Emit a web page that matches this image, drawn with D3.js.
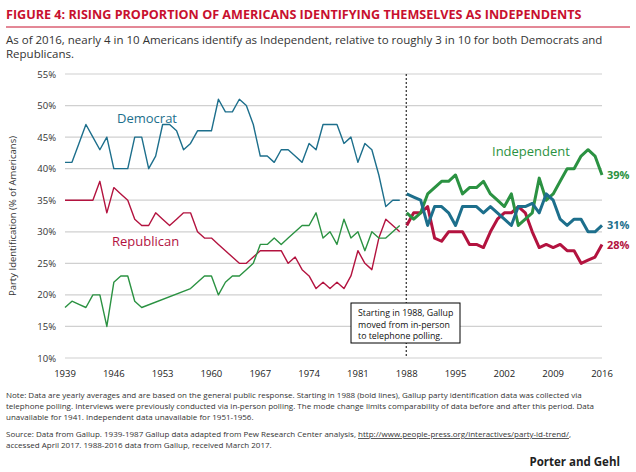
<!DOCTYPE html>
<html><head><meta charset="utf-8">
<script src="https://cdn.jsdelivr.net/npm/d3@7"></script>
<style>
body{margin:0;background:#fff;font-family:"Open Sans",Arial,sans-serif;}
</style></head><body><svg id="c" width="636" height="472"></svg>
<script>
// yearly values, in-person era (1939-1987) and telephone era (1988-2016)
var yearsA = d3.range(1939, 1988);
var yearsB = d3.range(1988, 2017);
var demA = [41,41,44,47,45,43,45,40,40,40,45,45,40,42,47,47,46,43,44,46,46,46,51,49,49,51,50,47,42,42,41,43,43,42,41,44,43,47,47,47,44,45,41,44,43,39,34,35,35];
var repA = [35,35,35,35,35,38,33,37,36,35,32,31,31,33,32,31,32,33,33,30,29,29,28,27,26,25,25,26,27,27,27,27,25,26,24,23,21,22,21,22,21,23,27,25,24,29,32,31,30];
var indA = [18,19,18.5,18,20,20,15,22,23,23,19,18,null,null,null,null,null,null,21,22,23,23,20,22,23,23,24,25,28,28,29,28,29,30,31,31,33,29,30,28,32,29,30,27,30,29,29,30,31];
var demB = [36,35.5,35,31,34,34,33,31,34,34,34,33,34,33,32,31,34,34,34.5,33,36,35,32,31,32,32,30,30,31];
var repB = [31,33,33,34,29,28.5,30,30,30,28,28,27.5,30,32,33,33,34,33,30,27.5,28,27.5,28,27,27,25,25.5,26,28];
var indB = [33,32,33,36,37,38,38,39,36,37,37,38,36,35,34,36,31,32,33,38.5,35,36,38,40,40,42,43,42,39];
var xTicks = [1939,1946,1953,1960,1967,1974,1981,1988,1995,2002,2009,2016];
var yTicks = d3.range(10, 56, 5);

var colDem = "#1d6f8c", colRep = "#b3133f", colInd = "#2b9242", red = "#c8102e";
var svg = d3.select("#c");
var x = d3.scaleLinear().domain([1939, 2016]).range([65, 602]);
var y = d3.scaleLinear().domain([10, 55]).range([358, 74]);

// title block
svg.append("text").attr("x", 6).attr("y", 19).attr("fill", red)
  .attr("font-size", 12.6).attr("font-weight", "bold")
  .text("FIGURE 4: RISING PROPORTION OF AMERICANS IDENTIFYING THEMSELVES AS INDEPENDENTS");
svg.append("line").attr("x1", 6).attr("x2", 630).attr("y1", 27).attr("y2", 27)
  .attr("stroke", red).attr("stroke-width", 1);
svg.append("text").attr("x", 6).attr("y", 44).attr("fill", "#333").attr("font-size", 11.5)
  .text("As of 2016, nearly 4 in 10 Americans identify as Independent, relative to roughly 3 in 10 for both Democrats and");
svg.append("text").attr("x", 6).attr("y", 58).attr("fill", "#333").attr("font-size", 11.5).text("Republicans.");

// grid + axes
svg.selectAll(".g").data(yTicks).enter().append("line")
  .attr("x1", 65).attr("x2", 602).attr("y1", d => y(d)).attr("y2", d => y(d))
  .attr("stroke", "#d0d0d0").attr("stroke-width", 1.2);
svg.selectAll(".yl").data(yTicks).enter().append("text")
  .attr("x", 56).attr("y", d => y(d) + 3.5).attr("text-anchor", "end")
  .attr("font-size", 9.5).attr("fill", "#333").text(d => d + "%");
svg.selectAll(".xl").data(xTicks).enter().append("text")
  .attr("x", d => x(d)).attr("y", 377).attr("text-anchor", "middle")
  .attr("font-size", 9.5).attr("fill", "#222").text(d => d);
svg.append("text").attr("transform", "translate(16,216) rotate(-90)")
  .attr("text-anchor", "middle").attr("font-size", 9.5).attr("fill", "#333")
  .text("Party Identification (% of Americans)");

// mode change marker
svg.append("line").attr("x1", x(1988) - 0.5).attr("x2", x(1988) - 0.5).attr("y1", 74).attr("y2", 358)
  .attr("stroke", "#000").attr("stroke-dasharray", "2,2").attr("stroke-width", 1);
svg.append("rect").attr("x", 351).attr("y", 303).attr("width", 109).attr("height", 40)
  .attr("fill", "#fff").attr("stroke", "#000").attr("stroke-width", 1);
["Starting in 1988, Gallup", "moved from in-person", "to telephone polling."].forEach((t, i) =>
  svg.append("text").attr("x", 358).attr("y", 316 + i * 11.5).attr("font-size", 8.8).attr("fill", "#111").text(t));

function drawLine(years, vals, col, w) {
  var pts = years.map((yr, i) => [yr, vals[i]]).filter(p => p[1] != null);
  svg.append("path").datum(pts).attr("fill", "none").attr("stroke", col)
    .attr("stroke-width", w).attr("stroke-linejoin", "round")
    .attr("d", d3.line().x(p => x(p[0])).y(p => y(p[1])));
}
drawLine(yearsA, demA, colDem, 1.4);
drawLine(yearsA, repA, colRep, 1.4);
drawLine(yearsA, indA, colInd, 1.4);
drawLine(yearsB, repB, colRep, 3);
drawLine(yearsB, indB, colInd, 3);
drawLine(yearsB, demB, colDem, 3);

// series labels
svg.append("text").attr("x", 117).attr("y", 123).attr("fill", colDem).attr("font-size", 13).text("Democrat");
svg.append("text").attr("x", 112).attr("y", 246).attr("fill", colRep).attr("font-size", 13).text("Republican");
svg.append("text").attr("x", 492).attr("y", 156).attr("fill", colInd).attr("font-size", 13).text("Independent");
[[indB, colInd], [demB, colDem], [repB, colRep]].forEach(s =>
  svg.append("text").attr("x", 607).attr("y", y(s[0][s[0].length - 1]) + 4 + (s[1] === colRep ? 1 : 0))
    .attr("fill", s[1]).attr("font-size", 11).attr("font-weight", "bold")
    .text(Math.round(s[0][s[0].length - 1]) + "%"));

// notes
var notes = [
  "Note: Data are yearly averages and are based on the general public response. Starting in 1988 (bold lines), Gallup party identification data was collected via",
  "telephone polling. Interviews were previously conducted via in-person polling. The mode change limits comparability of data before and after this period. Data",
  "unavailable for 1941. Independent data unavailable for 1951-1956."];
notes.forEach((t, i) => svg.append("text").attr("x", 6).attr("y", 398 + i * 11)
  .attr("font-size", 8).attr("fill", "#333").text(t));
svg.append("text").attr("x", 6).attr("y", 437).attr("font-size", 8).attr("fill", "#333")
  .text("Source: Data from Gallup. 1939-1987 Gallup data adapted from Pew Research Center analysis, ")
  .append("tspan").attr("text-decoration", "underline").text("http://www.people-press.org/interactives/party-id-trend/")
  .select(function () { return this.parentNode; }).append("tspan").text(",");
svg.append("text").attr("x", 6).attr("y", 448).attr("font-size", 8).attr("fill", "#333")
  .text("accessed April 2017. 1988-2016 data from Gallup, received March 2017.");
svg.append("text").attr("x", 620).attr("y", 466).attr("text-anchor", "end")
  .attr("font-size", 11.5).attr("font-weight", "bold").attr("fill", "#222").text("Porter and Gehl");
</script></body></html>
